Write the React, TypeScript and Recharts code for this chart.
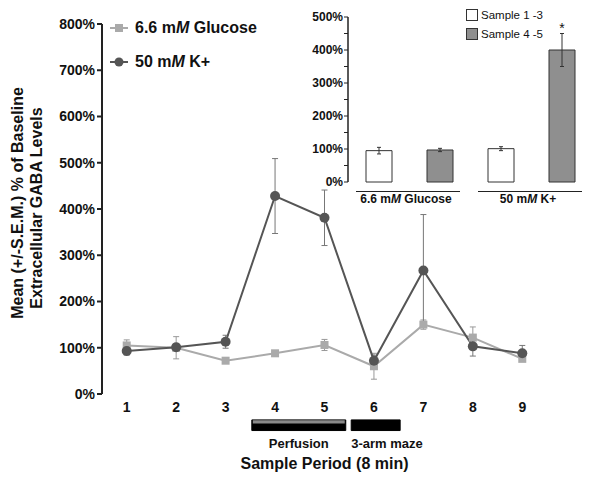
import React from "react";
import {
  LineChart,
  Line,
  XAxis,
  YAxis,
  ErrorBar,
  ReferenceArea,
  Legend,
  BarChart,
  Bar,
  LabelList,
} from "recharts";

// main panel: GABA level per 8-min sample period
const periods = [1, 2, 3, 4, 5, 6, 7, 8, 9];
const glucoseMean = [105, 100, 72, 88, 106, 60, 150, 122, 76];
const glucoseSem = [12, 24, 4, 4, 12, 28, 10, 23, 5];
const kMean = [93, 101, 113, 428, 381, 72, 267, 103, 88];
const kSem = [9, 8, 14, 81, 60, 12, 121, 21, 17];
const yTicks = [0, 100, 200, 300, 400, 500, 600, 700, 800];
const edgeTicks = [0.5, 1.5, 2.5, 3.5, 4.5, 5.5, 6.5, 7.5, 8.5, 9.5];
const legendOrder = ["glucose", "k"];

// protocol bars under the x axis (in sample-period units)
const phases = [
  { name: "Perfusion", from: 3.53, to: 5.43, anchor: "middle", strip: true },
  { name: "3-arm maze", from: 5.54, to: 6.53, anchor: "start", strip: false },
];

// inset panel
const insetGroups = ["6.6 mM Glucose", "50 mM K+"];
const sample13 = [95, 101];
const sample13Err = [10, 6];
const sample45 = [97, 400];
const sample45Err = [5, 50];
const significance = ["", "*"];
const insetTicks = [0, 50, 100, 150, 200, 250, 300, 350, 400, 450, 500];

const mainData = periods.map((p, i) => ({
  period: p,
  glucose: glucoseMean[i],
  glucoseSem: glucoseSem[i],
  k: kMean[i],
  kSem: kSem[i],
}));

const insetData = insetGroups.map((g, i) => ({
  group: g,
  s13: sample13[i],
  s13Err: sample13Err[i],
  s45: sample45[i],
  s45Err: sample45Err[i],
  sig: significance[i],
}));

const FONT = "'Liberation Sans', Arial, Helvetica, sans-serif";
const INK = "#111";
const LIGHT = "#aaaaaa";
const DARK = "#555555";
const BAR_GRAY = "#8f8f8f";

// "mM" with italic M, as in the source figure
const mmSvg = (label: string) => {
  const parts = label.split("mM");
  if (parts.length < 2) return label;
  return (
    <>
      {parts[0]}m<tspan fontStyle="italic">M</tspan>
      {parts[1]}
    </>
  );
};
const mmHtml = (label: string) => {
  const parts = label.split("mM");
  if (parts.length < 2) return label;
  return (
    <>
      {parts[0]}m<i>M</i>
      {parts[1]}
    </>
  );
};

const SquareDot = (p: any) => {
  if (p.cx == null || p.cy == null) return <g key={p.index} />;
  return <rect key={`sq-${p.index}`} x={p.cx - 4} y={p.cy - 4} width={8} height={8} fill={LIGHT} />;
};
const RoundDot = (p: any) => {
  if (p.cx == null || p.cy == null) return <g key={p.index} />;
  return <circle key={`ci-${p.index}`} cx={p.cx} cy={p.cy} r={5} fill={DARK} />;
};

const MainLegend = ({ payload }: any) => {
  const items = [...(payload || [])].sort(
    (a: any, b: any) => legendOrder.indexOf(a.dataKey) - legendOrder.indexOf(b.dataKey)
  );
  return (
    <div style={{ fontFamily: FONT }}>
      {items.map((e: any) => (
        <div key={e.value} style={{ display: "flex", alignItems: "center", height: 34 }}>
          <svg width={18} height={12}>
            <line x1={0} x2={18} y1={6} y2={6} stroke={e.color} strokeWidth={2} />
            {e.dataKey === "glucose" ? (
              <rect x={5} y={2} width={8} height={8} fill={LIGHT} />
            ) : (
              <circle cx={9} cy={6} r={4.5} fill={DARK} />
            )}
          </svg>
          <span style={{ marginLeft: 7, fontSize: 16, fontWeight: "bold", color: INK, whiteSpace: "nowrap" }}>
            {mmHtml(e.value)}
          </span>
        </div>
      ))}
    </div>
  );
};

const InsetLegend = ({ payload }: any) => (
  <div style={{ fontFamily: FONT }}>
    {(payload || []).map((e: any) => (
      <div key={e.value} style={{ display: "flex", alignItems: "center", height: 19 }}>
        <div
          style={{
            width: 12,
            height: 12,
            background: e.payload?.fill ?? "#fff",
            border: "1px solid #333",
            boxSizing: "border-box",
          }}
        />
        <span style={{ marginLeft: 3, fontSize: 11.5, color: INK, whiteSpace: "nowrap" }}>{e.value}</span>
      </div>
    ))}
  </div>
);

const YTitle = ({ viewBox }: any) => {
  const cy = viewBox.y + viewBox.height / 2;
  const style = { fontFamily: FONT, fontSize: 16, fontWeight: "bold" as const, fill: INK };
  return (
    <g>
      <text transform={`translate(${viewBox.x + 17}, ${cy - 6})rotate(-90)`} textAnchor="middle" dominantBaseline="central" {...style}>
        Mean (+/-S.E.M.) % of Baseline
      </text>
      <text transform={`translate(${viewBox.x + 36}, ${cy - 1})rotate(-90)`} textAnchor="middle" dominantBaseline="central" {...style}>
        Extracellular GABA Levels
      </text>
    </g>
  );
};

const PhaseLabel = (anchor: string, name: string) => (props: any) => {
  const vb = props.viewBox;
  const x = anchor === "start" ? vb.x : vb.x + vb.width / 2;
  return (
    <text x={x} y={vb.y + vb.height + 17} textAnchor={anchor} fontFamily={FONT} fontSize={13} fontWeight="bold" fill={INK}>
      {name}
    </text>
  );
};

const InsetTick = (props: any) => {
  const { x, y, payload } = props;
  return (
    <g>
      <line x1={x - 53} x2={x + 51} y1={y + 1.5} y2={y + 1.5} stroke="#222" strokeWidth={1.2} />
      <text x={x - 3} y={y + 12.5} textAnchor="middle" fontFamily={FONT} fontSize={12} fontWeight="bold" fill={INK}>
        {mmSvg(payload.value)}
      </text>
    </g>
  );
};

const Asterisk = (props: any) => {
  const { x, y, width, value } = props;
  if (!value) return null;
  return (
    <text x={x + width / 2} y={y - 17} textAnchor="middle" fontFamily={FONT} fontSize={14} fill={INK}>
      {value}
    </text>
  );
};

const emptyTick = () => <g />;

export default function App() {
  const tickStyle = { fontFamily: FONT, fontSize: 14, fontWeight: "bold", fill: INK };
  const axisStroke = { stroke: "#222", strokeWidth: 2 };

  return (
    <div style={{ position: "relative", width: 601, height: 482, background: "#fff" }}>
      <style>{"body{margin:0;}"}</style>
      <LineChart width={601} height={482} data={mainData} margin={{ top: 24, right: 54, left: 0, bottom: 0 }}>
        <XAxis
          xAxisId="edges"
          type="number"
          domain={[0.5, 9.5]}
          ticks={edgeTicks}
          height={0}
          tick={emptyTick}
          tickSize={5}
          axisLine={axisStroke}
          tickLine={axisStroke}
          allowDataOverflow
        />
        <XAxis
          xAxisId="main"
          type="number"
          dataKey="period"
          domain={[0.5, 9.5]}
          ticks={periods}
          height={88}
          axisLine={false}
          tickLine={false}
          tickSize={5}
          tickMargin={3}
          tick={tickStyle}
          interval={0}
          label={{
            value: "Sample Period (8 min)",
            position: "insideBottom",
            offset: 13,
            fontFamily: FONT,
            fontSize: 16,
            fontWeight: "bold",
            fill: INK,
          }}
        />
        <YAxis
          width={102}
          domain={[0, 800]}
          ticks={yTicks}
          tickFormatter={(v) => `${v}%`}
          tickSize={5}
          tickMargin={2}
          tick={tickStyle}
          axisLine={axisStroke}
          tickLine={axisStroke}
          interval={0}
          label={{ content: YTitle }}
        />
        {phases.map((ph) => (
          <ReferenceArea
            key={ph.name}
            xAxisId="main"
            x1={ph.from}
            x2={ph.to}
            y1={-56}
            y2={-79}
            fill="#000"
            fillOpacity={1}
            stroke="#000"
            strokeWidth={1}
            ifOverflow="visible"
            label={{ content: PhaseLabel(ph.anchor, ph.name) }}
          />
        ))}
        {phases
          .filter((ph) => ph.strip)
          .map((ph) => (
            <ReferenceArea
              key={ph.name + "-strip"}
              xAxisId="main"
              x1={ph.from + 0.02}
              x2={ph.to - 0.02}
              y1={-57}
              y2={-64}
              fill="#8a8a8a"
              fillOpacity={1}
              stroke="none"
              ifOverflow="visible"
            />
          ))}
        <Line
          xAxisId="main"
          dataKey="glucose"
          name="6.6 mM Glucose"
          stroke={LIGHT}
          strokeWidth={2}
          dot={SquareDot}
          activeDot={false}
          isAnimationActive={false}
        >
          <ErrorBar dataKey="glucoseSem" width={3} stroke="#999" strokeWidth={1} direction="y" />
        </Line>
        <Line
          xAxisId="main"
          dataKey="k"
          name="50 mM K+"
          stroke={DARK}
          strokeWidth={2}
          dot={RoundDot}
          activeDot={false}
          isAnimationActive={false}
        >
          <ErrorBar dataKey="kSem" width={3} stroke="#777" strokeWidth={1} direction="y" />
        </Line>
        <Legend
          layout="vertical"
          align="center"
          verticalAlign="middle"
          content={MainLegend}
          wrapperStyle={{ left: 110, top: 11, width: "auto" }}
        />
      </LineChart>

      <div style={{ position: "absolute", left: 300, top: 0 }}>
        <BarChart
          width={301}
          height={215}
          data={insetData}
          margin={{ top: 17, right: 9, left: 0, bottom: 0 }}
          barSize={26}
          barGap={35}
        >
          <XAxis
            xAxisId="edges"
            type="number"
            domain={[0, 2]}
            ticks={[0, 1, 2]}
            height={0}
            tick={emptyTick}
            tickSize={4}
            axisLine={{ stroke: "#222", strokeWidth: 1.5 }}
            tickLine={{ stroke: "#222", strokeWidth: 1.5 }}
            allowDataOverflow
          />
          <XAxis
            xAxisId="cat"
            dataKey="group"
            height={33}
            axisLine={false}
            tickLine={false}
            tick={InsetTick}
            interval={0}
          />
          <YAxis
            width={48}
            domain={[0, 500]}
            ticks={insetTicks}
            interval={0}
            tickFormatter={(v) => (v % 100 === 0 ? `${v}%` : "")}
            tickSize={4}
            tickMargin={1}
            tick={{ fontFamily: FONT, fontSize: 12, fontWeight: "bold", fill: INK }}
            axisLine={{ stroke: "#222", strokeWidth: 1.5 }}
            tickLine={{ stroke: "#222", strokeWidth: 1 }}
          />
          <Bar xAxisId="cat" dataKey="s13" name="Sample 1 -3" fill="#ffffff" stroke="#333" strokeWidth={1} isAnimationActive={false}>
            <ErrorBar dataKey="s13Err" width={2} stroke="#333" strokeWidth={1} direction="y" />
          </Bar>
          <Bar xAxisId="cat" dataKey="s45" name="Sample 4 -5" fill={BAR_GRAY} stroke="#333" strokeWidth={1} isAnimationActive={false}>
            <ErrorBar dataKey="s45Err" width={2} stroke="#333" strokeWidth={1} direction="y" />
            <LabelList dataKey="sig" content={Asterisk} />
          </Bar>
          <Legend
            layout="vertical"
            align="center"
            verticalAlign="middle"
            content={InsetLegend}
            wrapperStyle={{ left: 166, top: 5, width: "auto" }}
          />
        </BarChart>
      </div>
    </div>
  );
}
